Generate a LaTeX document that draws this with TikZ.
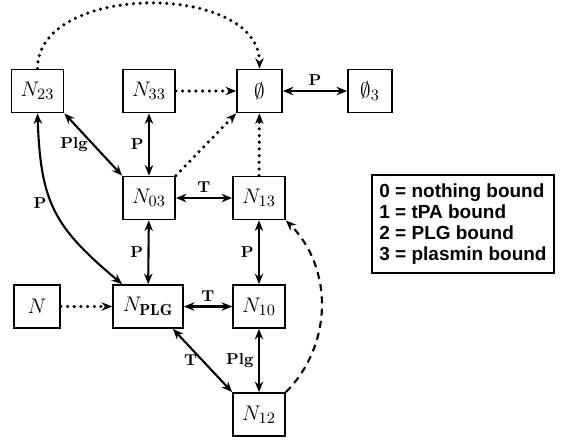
\documentclass[tikz,border=0pt]{standalone}
\usepackage{fontspec}
\newfontfamily\keyfont{Liberation Sans}
\usetikzlibrary{arrows.meta}
\tikzset{
	box/.style={draw, line width=1pt, minimum width=1.04cm, minimum height=0.86cm, inner sep=2pt, font=\fontsize{13}{15}\selectfont},
	tip/.style={-{Stealth[length=6pt,width=4.8pt]}},
	link/.style={line width=1.2pt, {Stealth[length=6pt,width=4.8pt]}-{Stealth[length=6pt,width=4.8pt]}},
	dots/.style={line width=2pt, line cap=round, dash pattern=on 0pt off 3.8pt, tip},
	dashes/.style={line width=1.2pt, dash pattern=on 4pt off 3pt, tip},
	lbl/.style={font=\small\bfseries, inner sep=2.5pt},
	key/.style={draw, line width=1.2pt, align=left, minimum width=3.64cm, minimum height=1.96cm, font=\fontsize{10.8}{11.8}\selectfont\keyfont\bfseries},
}

\begin{document}
\begin{tikzpicture}
		\useasboundingbox (0,0) rectangle (11.28,-8.82);
		%%%%% START %%%%%
		
		\node[box] (N23) at (0.75,-1.82) {$N_{23}$};
		\node[box] (N33) at (2.98,-1.82) {$N_{33}$};
		\node[box, minimum width=0.9cm] (E) at (5.19,-1.82) {$\emptyset$};
		\node[box, minimum width=0.88cm] (E3) at (7.40,-1.82) {$\emptyset_3$};
		
		\node[box] (N03) at (2.98,-3.96) {$N_{03}$};
		\node[box] (N13) at (5.18,-3.96) {$N_{13}$};
		
		\node[box, minimum width=0.92cm] (N) at (0.74,-6.13) {$N$};
		\node[box, minimum width=1.4cm] (NPLG) at (2.96,-6.13) {$N_{\mathbf{PLG}}$};
		\node[box] (N10) at (5.18,-6.13) {$N_{10}$};
		
		\node[box] (N12) at (5.18,-8.29) {$N_{12}$};
		
		\node[key] (K) at (9.26,-4.48) {0 = nothing bound\\1 = tPA bound\\2 = PLG bound\\3 = plasmin bound};
		
		% decay to the empty state
		\draw[dots] (N23.north) to[out=90,in=90] (E.north);
		\draw[dots] (N33) -- (E);
		\draw[dots] (N03.north east) -- (E.south west);
		\draw[dots] (N13) -- (E);
		\draw[dots] (N) -- (NPLG);
		
		\draw[link] (E) -- node[lbl, above] {P} (E3);
		\draw[link] (N23.south east) -- node[lbl, left] {Plg} (N03.north west);
		\draw[link] (N23.south) to[out=-88,in=140,looseness=1.2] node[lbl, pos=0.45, left] {P} ([xshift=0.2cm]NPLG.north west);
		\draw[link] (N33) -- node[lbl, left] {P} (N03);
		\draw[link] (N03) -- node[lbl, above] {T} (N13);
		\draw[link] (N03) -- node[lbl, left] {P} (NPLG);
		\draw[link] (N13) -- node[lbl, left] {P} (N10);
		\draw[link] (NPLG) -- node[lbl, above] {T} (N10);
		\draw[link] ([xshift=-0.22cm]NPLG.south east) -- node[lbl, left] {T} (N12.north west);
		\draw[link] (N10) -- node[lbl, left] {Plg} (N12);
		
		\draw[dashes] (N12.north east) to[out=45,in=-45] (N13.south east);
		
		%%%%% END %%%%%
\end{tikzpicture}
\end{document}
